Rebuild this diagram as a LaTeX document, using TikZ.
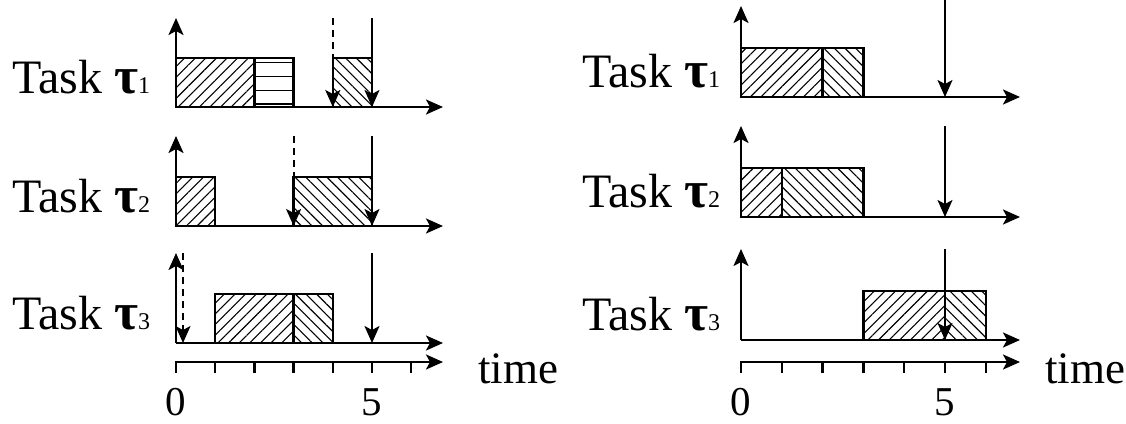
\documentclass[tikz,border=0pt]{standalone}
\usepackage{fontspec}
\setmainfont{Liberation Serif}
\usetikzlibrary{arrows.meta,patterns.meta}
\tikzset{
  tip/.style={-{Stealth[length=17pt,width=15pt,inset=4pt]}},
  ax/.style={line width=2.4pt,tip},
  blk/.style={draw,line width=2.4pt},
  hne/.style={blk,pattern={Lines[angle=45,distance=7.5pt,line width=1.1pt]}},
  hnw/.style={blk,pattern={Lines[angle=-45,distance=7.5pt,line width=1.1pt]}},
  dline/.style={line width=1.9pt,tip},
  rel/.style={dline,dash pattern=on 7pt off 5pt},
  tick/.style={line width=2.4pt},
  lbl/.style={font=\fontsize{48}{54}\selectfont,anchor=base west,inner sep=0pt},
  tlbl/.style={font=\fontsize{45}{50}\selectfont,anchor=base west,inner sep=0pt},
  num/.style={font=\fontsize{41}{44}\selectfont,anchor=base,inner sep=0pt},
}
\newcommand{\tasklbl}[1]{Task\hspace{0.25em}{\fontsize{52}{52}\selectfont\bfseries τ}{\fontsize{24}{24}\selectfont #1}}
\begin{document}
\begin{tikzpicture}[x=1pt,y=-1pt]
\useasboundingbox (0,0) rectangle (1126,423);
% ================= LEFT SCHEDULE =================
% row 1
\draw[hne] (176,58) rectangle (254.4,107);
\draw[blk] (254.4,58) rectangle (293.6,107);
\foreach \yy in {62.5,76.5,90.5,104} \draw[line width=1.5pt] (254.4,\yy) -- (293.6,\yy);
\draw[hnw] (332.8,58) rectangle (372,107);
\draw[ax] (176,107) -- (176,18);
\draw[ax] (176,107) -- (443,107);
\draw[rel] (332.8,18) -- (332.8,107);
\draw[dline] (372,18) -- (372,107);
\node[lbl] (l1) at (12,93) {\tasklbl{1}};
% row 2
\draw[hne] (176,177) rectangle (215.2,226);
\draw[hnw] (293.6,177) rectangle (372,226);
\draw[ax] (176,226) -- (176,136);
\draw[ax] (176,226) -- (443,226);
\draw[rel] (293.6,136) -- (293.6,226);
\draw[dline] (372,136) -- (372,226);
\node[lbl] (l2) at (12,212) {\tasklbl{2}};
% row 3
\draw[hne] (215.2,294) rectangle (293.6,343);
\draw[hnw] (293.6,294) rectangle (332.8,343);
\draw[ax] (176,343) -- (176,253);
\draw[ax] (176,343) -- (443,343);
\draw[rel] (183,253) -- (183,343);
\draw[dline] (372,253) -- (372,343);
\node[lbl] (l3) at (12,329) {\tasklbl{3}};
% time axis
\draw[ax] (176,362) -- (443,362);
\foreach \t in {0,...,6} \draw[tick] ({176+39.2*\t},361) -- ({176+39.2*\t},373);
\node[num] (z1) at (176,415) {0};
\node[num] (f1) at (372,415) {5};
\node[tlbl] (t1) at (478,383) {time};
% ================= RIGHT SCHEDULE =================
% row 1
\draw[hne] (741,48) rectangle (822.6,97);
\draw[hnw] (822.6,48) rectangle (863.4,97);
\draw[ax] (741,97) -- (741,6);
\draw[ax] (741,97) -- (1020,97);
\draw[dline] (945,0) -- (945,97);
\node[lbl] (r1) at (582,87) {\tasklbl{1}};
% row 2
\draw[hne] (741,168) rectangle (781.8,217);
\draw[hnw] (781.8,168) rectangle (863.4,217);
\draw[ax] (741,217) -- (741,126);
\draw[ax] (741,217) -- (1020,217);
\draw[dline] (945,126) -- (945,217);
\node[lbl] (r2) at (582,207) {\tasklbl{2}};
% row 3
\draw[hne] (863.4,291) rectangle (945,340);
\draw[hnw] (945,291) rectangle (985.8,340);
\draw[ax] (741,340) -- (741,249);
\draw[ax] (741,340) -- (1020,340);
\draw[dline] (945,249) -- (945,340);
\node[lbl] (r3) at (582,330) {\tasklbl{3}};
% time axis
\draw[ax] (741,362) -- (1020,362);
\foreach \t in {0,...,6} \draw[tick] ({741+40.8*\t},361) -- ({741+40.8*\t},373);
\node[num] (z2) at (741,415) {0};
\node[num] (f2) at (945,415) {5};
\node[tlbl] (t2) at (1045,383) {time};
\end{tikzpicture}
\end{document}
